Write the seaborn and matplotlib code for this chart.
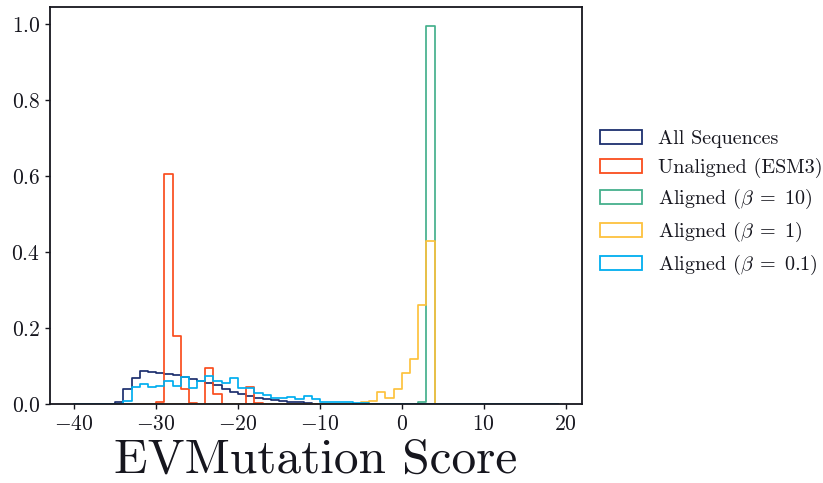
import numpy as np
import pandas as pd
import matplotlib
matplotlib.use("Agg")
import matplotlib.pyplot as plt
from matplotlib.patches import Patch
import seaborn as sns

# Common unit-width bins over the score range
bin_lo, bin_hi = -40, 19

# Per-bin densities, keyed by the left edge of each bin
all_left = [-35, -34, -33, -32, -31, -30, -29, -28, -27, -26, -25, -24, -23, -22,
            -21, -20, -19, -18, -17, -16, -15, -14, -13, -12, -11, -10, -9]
all_vals = [0.007, 0.040, 0.070, 0.087, 0.084, 0.082, 0.080, 0.077, 0.073, 0.067,
            0.060, 0.055, 0.051, 0.040, 0.032, 0.026, 0.022, 0.016, 0.013, 0.011,
            0.009, 0.006, 0.005, 0.003, 0.002, 0.001, 0.001]

esm3_left = [-30, -29, -28, -27, -26, -24, -23, -19, -18]
esm3_vals = [0.006, 0.605, 0.180, 0.040, 0.003, 0.096, 0.026, 0.045, 0.004]

b10_left = [2, 3]
b10_vals = [0.006, 0.994]

b1_left = [-6, -5, -4, -3, -2, -1, 0, 1, 2, 3]
b1_vals = [0.002, 0.005, 0.009, 0.033, 0.016, 0.040, 0.082, 0.120, 0.262, 0.430]

b01_left = [-34, -33, -32, -31, -30, -29, -28, -27, -26, -25, -24, -23, -22, -21,
            -20, -19, -18, -17, -16, -15, -14, -13, -12, -11, -10, -9, -8, -7, -6, -5]
b01_vals = [0.008, 0.045, 0.053, 0.045, 0.048, 0.060, 0.048, 0.071, 0.044, 0.060,
            0.075, 0.061, 0.055, 0.068, 0.044, 0.042, 0.030, 0.024, 0.017, 0.016,
            0.020, 0.013, 0.023, 0.013, 0.005, 0.005, 0.005, 0.006, 0.004, 0.003]

labels = ["All Sequences", "Unaligned (ESM3)", r"Aligned ($\beta \;=\; 10$)",
          r"Aligned ($\beta \;=\; 1$)", r"Aligned ($\beta \;=\; 0.1$)"]
colors = ["#1c2f6e", "#fa4d1e", "#45b08c", "#fdc23e", "#00aeef"]
series = [(all_left, all_vals), (esm3_left, esm3_vals), (b10_left, b10_vals),
          (b1_left, b1_vals), (b01_left, b01_vals)]

ink = "#16161e"
sns.set_style("ticks")
plt.rcParams.update({
    "font.family": ["cmr10"],
    "mathtext.fontset": "cm",
    "axes.formatter.use_mathtext": True,
    "text.color": ink,
    "axes.labelcolor": ink,
    "axes.edgecolor": ink,
    "axes.linewidth": 1.3,
    "xtick.color": ink,
    "ytick.color": ink,
    "xtick.major.size": 3.5,
    "ytick.major.size": 3.5,
    "xtick.major.width": 1.0,
    "ytick.major.width": 1.0,
})

edges = np.arange(bin_lo, bin_hi + 1, 1.0)
centers = edges[:-1] + 0.5

fig = plt.figure(figsize=(8.23, 4.83), dpi=100)
ax = fig.add_axes([0.0608, 0.1629, 0.646, 0.822])

for (left, vals), label, color in zip(series, labels, colors):
    heights = np.zeros(len(centers))
    idx = np.searchsorted(edges[:-1], left)
    heights[idx] = vals
    df = pd.DataFrame({"score": centers, "w": heights})
    sns.histplot(data=df, x="score", weights="w", bins=edges.tolist(),
                 element="step", fill=False, color=color, linewidth=1.25, ax=ax)

ax.set_xlabel("EVMutation Score", fontsize=35.5, labelpad=3.5)
ax.set_ylabel("")
ax.tick_params(axis="both", labelsize=15.5)
ax.set_xticks([-40, -30, -20, -10, 0, 10, 20])
ax.set_yticks([0.0, 0.2, 0.4, 0.6, 0.8, 1.0])
ax.yaxis.set_major_formatter(matplotlib.ticker.FormatStrFormatter(r"$\mathdefault{%.1f}$"))
for side in ["top", "right", "left", "bottom"]:
    ax.spines[side].set_visible(True)

handles = [Patch(facecolor="none", edgecolor=c, linewidth=1.3) for c in colors]
ax.legend(handles, labels, loc="center left", bbox_to_anchor=(1.0, 0.505),
          frameon=False, fontsize=14.5, handlelength=2.1, handleheight=0.7,
          handletextpad=0.8, labelspacing=0.45)

fig.savefig("out.png", dpi=100)
